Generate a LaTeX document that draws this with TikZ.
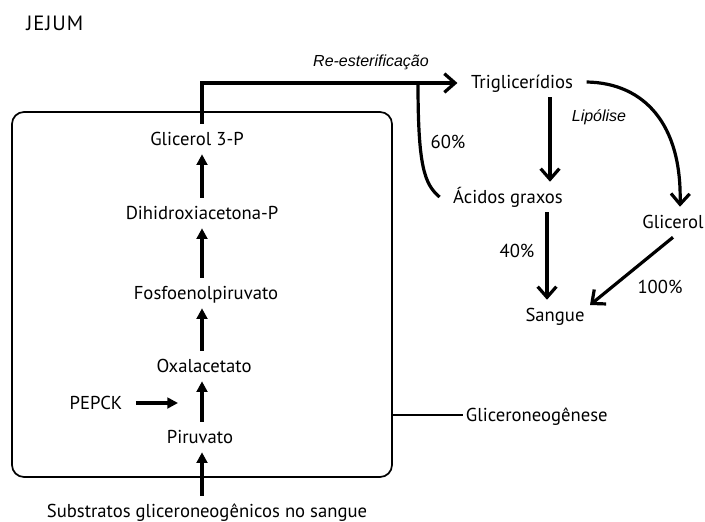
\documentclass[tikz,border=0pt]{standalone}
\usepackage{fontspec}
\setmainfont{PT Sans}
\newfontfamily\arialfont{Liberation Sans}
\usetikzlibrary{arrows.meta}
\begin{document}
\begin{tikzpicture}[x=0.75pt,y=-0.75pt,
  lbl/.style={font=\fontsize{14}{16}\selectfont, inner xsep=10pt, inner ysep=6.25pt, text height=10pt, text depth=0pt},
  plain/.style={lbl, inner sep=0pt},
  ital/.style={font=\arialfont\itshape\fontsize{12}{14}\selectfont, inner sep=0pt},
  fillarrow/.style={line width=2.4pt, -{Triangle[length=8pt,width=8pt]}},
  openarrow/.style={line width=2.4pt, -{Straight Barb[length=8pt,width=14pt]}},
  thickline/.style={line width=2.4pt},
  frame/.style={draw, line width=1.3pt, rounded corners=9pt, minimum width=285pt, minimum height=273.75pt, inner sep=0pt},
  thinline/.style={line width=0.8pt},
]
\useasboundingbox (0,0) rectangle (705,521);

% frame
\node[frame] (box) at (202,294.5) {};

% title
\node[plain, anchor=west, font=\fontsize{15.5}{18}\selectfont] (jejum) at (26,24) {\addfontfeature{LetterSpace=5}JEJUM};

% pathway inside the frame
\node[lbl] (g3p) at (197,139) {Glicerol 3-P};
\node[lbl] (dhap) at (202,213) {Dihidroxiacetona-P};
\node[lbl] (pep) at (206,293) {Fosfoenolpiruvato};
\node[lbl] (oaa) at (204,366) {Oxalacetato};
\node[lbl] (pepck) at (96,403) {PEPCK};
\node[lbl] (pyr) at (200,437) {Piruvato};
\node[lbl] (subs) at (207,511) {Substratos gliceroneogênicos no sangue};
\node[plain, anchor=west, inner xsep=2pt] (glicero) at (463,415) {Gliceroneogênese};

% right side
\node[lbl] (trig) at (522,82) {Triglicerídios};
\node[lbl] (acid) at (508,197) {Ácidos graxos};
\node[lbl] (glic) at (673,222) {Glicerol};
\node[lbl] (sang) at (555,315) {Sangue};

% labels
\node[ital] (reest) at (371,62) {Re-esterificação};
\node[ital] (lip) at (599,117) {Lipólise};
\node[plain] (p60) at (448,142) {60\%};
\node[plain] (p40) at (517,251) {40\%};
\node[plain] (p100) at (660,287) {100\%};

% helper coordinates
\coordinate (ax) at (202,0);
\coordinate (pepckend) at (178,403);
\coordinate (corner) at (202,83);
\coordinate (c60) at (418,83);
\coordinate (gtip) at (680,0);
\coordinate (colA) at (550,0);
\coordinate (colB) at (547,0);
\coordinate (stip) at (590,305);

% pathway arrows
\draw[fillarrow] (ax |- dhap.north) -- (ax |- g3p.south);
\draw[fillarrow] (ax |- pep.north) -- (ax |- dhap.south);
\draw[fillarrow] (ax |- oaa.north) -- (ax |- pep.south);
\draw[fillarrow] (ax |- pyr.north) -- (ax |- oaa.south);
\draw[fillarrow] (ax |- subs.north) -- (ax |- pyr.south);
\draw[fillarrow] (pepck.east) -- (pepckend);

% re-esterification
\draw[openarrow] (ax |- g3p.north) -- (corner) -- (corner -| trig.west);
\draw[thickline] (c60) .. controls (418,165) and (424,184) .. (acid.west);

% lipolysis
\draw[openarrow] (trig.east) .. controls (645,83) and (682,125) .. (gtip |- glic.north);
\draw[openarrow] (colA |- trig.south) -- (colA |- acid.north);
\draw[openarrow] (colB |- acid.south) -- (colB |- sang.north);
\draw[openarrow] (glic.south) -- (stip);

% gliceroneogenese pointer
\draw[thinline] (box.east |- glicero.west) -- (glicero.west);
\end{tikzpicture}
\end{document}
